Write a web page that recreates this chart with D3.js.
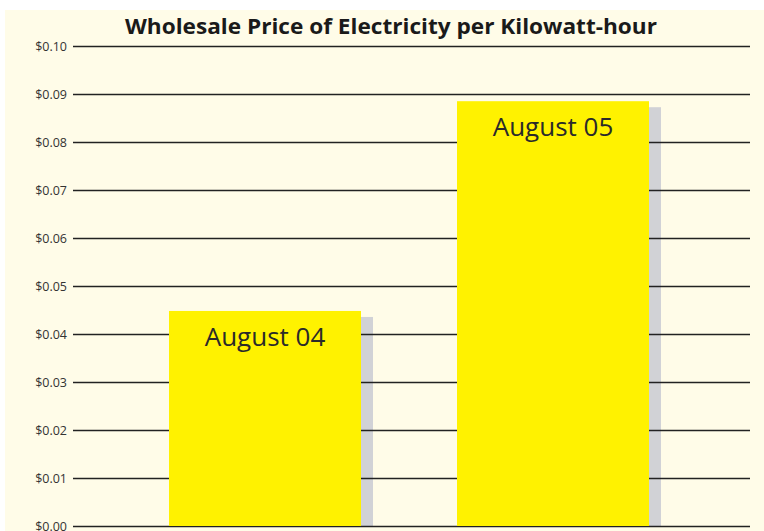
<!DOCTYPE html>
<html><head><meta charset="utf-8">
<script src="https://cdn.jsdelivr.net/npm/d3@7"></script>
<style>html,body{margin:0;padding:0;background:#fff;}svg{display:block;}</style>
</head><body>
<svg id="chart" width="764" height="531"></svg>
<script>
const title = "Wholesale Price of Electricity per Kilowatt-hour";
const categories = ["August 04", "August 05"];
const values = [0.0448, 0.0885];
const tickValues = [0, 0.01, 0.02, 0.03, 0.04, 0.05, 0.06, 0.07, 0.08, 0.09, 0.10];

const svg = d3.select("#chart");
const W = 764, H = 531;
const m = {left: 73, right: 14, top: 46, bottom: 5};

svg.append("rect").attr("x", 5).attr("y", 10).attr("width", W - 5).attr("height", H - 10).attr("fill", "#fffce8");

const y = d3.scaleLinear().domain([0, 0.10]).range([H - m.bottom, m.top]);
const x = d3.scaleBand().domain(categories).range([m.left, 745]).paddingInner(1/3).paddingOuter(1/3);

const g = svg.append("g");
// shadows
g.selectAll("rect.shadow").data(values).join("rect")
  .attr("class", "shadow")
  .attr("x", (d, i) => x(categories[i]) + 12)
  .attr("y", d => y(d) + 6)
  .attr("width", x.bandwidth())
  .attr("height", d => y(0) - y(d) - 6)
  .attr("fill", "#d1d2d6");

// gridlines + axis
const axis = d3.axisLeft(y).tickValues(tickValues).tickSize(-(W - m.left - m.right)).tickPadding(7)
  .tickFormat(d => "$" + d3.format(".2f")(d));
const ag = svg.append("g").attr("transform", `translate(${m.left},0)`).call(axis);
ag.select(".domain").remove();
ag.selectAll(".tick line").attr("stroke", "#222").attr("stroke-width", 1.4);
ag.selectAll(".tick text").attr("fill", "#333").attr("font-size", 12.5)
  .attr("font-family", "'Open Sans', sans-serif").attr("x", -6);

// bars
svg.selectAll("rect.bar").data(values).join("rect")
  .attr("class", "bar")
  .attr("x", (d, i) => x(categories[i]))
  .attr("y", d => y(d))
  .attr("width", x.bandwidth())
  .attr("height", d => y(0) - y(d))
  .attr("fill", "#fff200");

svg.selectAll("text.lbl").data(values).join("text")
  .attr("class", "lbl")
  .attr("x", (d, i) => x(categories[i]) + x.bandwidth() / 2)
  .attr("y", d => y(d) + 35)
  .attr("text-anchor", "middle")
  .attr("font-family", "'Open Sans', sans-serif")
  .attr("font-size", 26)
  .attr("fill", "#2a2a2a")
  .text((d, i) => categories[i]);

svg.append("text").attr("x", 391).attr("y", 34).attr("text-anchor", "middle")
  .attr("font-family", "'Open Sans', sans-serif").attr("font-weight", "bold").attr("font-size", 21)
  .attr("fill", "#1a1a1a").attr("textLength", 532).attr("lengthAdjust", "spacingAndGlyphs")
  .text(title);
</script>
</body></html>
